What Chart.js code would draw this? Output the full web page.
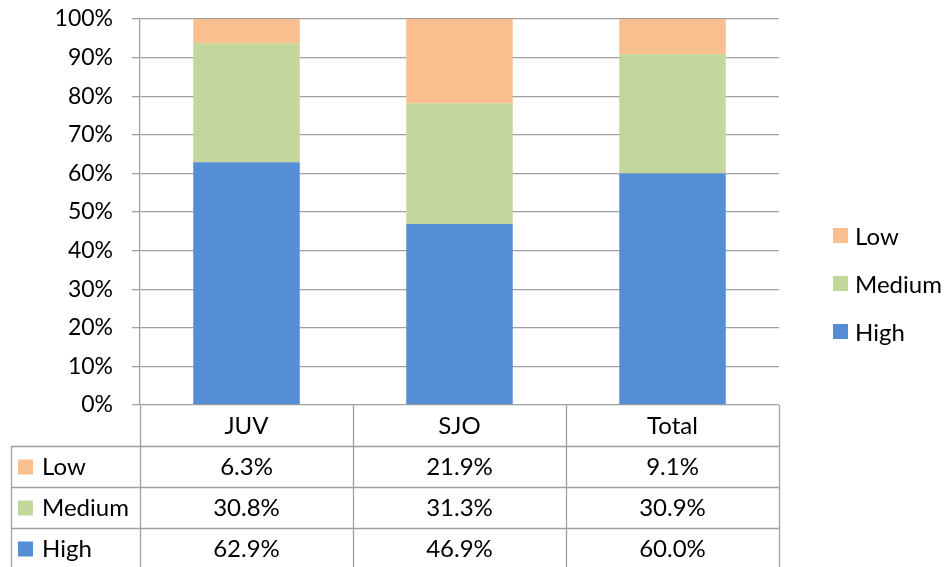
<!DOCTYPE html>
<html>
<head>
<meta charset="utf-8">
<script src="https://cdn.jsdelivr.net/npm/chart.js@4/dist/chart.umd.min.js"></script>
<style>
html,body{margin:0;padding:0;background:#fff;}
#wrap{width:949px;height:567px;}
</style>
</head>
<body>
<div id="wrap"><canvas id="chart" width="949" height="567"></canvas></div>
<script>
// data
const categories = ['JUV', 'SJO', 'Total'];
const seriesNames = ['High', 'Medium', 'Low'];
const highVals = [62.9, 46.9, 60.0];
const mediumVals = [30.8, 31.3, 30.9];
const lowVals = [6.3, 21.9, 9.1];
const yTicks = [0, 10, 20, 30, 40, 50, 60, 70, 80, 90, 100];

const colors = {High:'#558ED5', Medium:'#C3D69B', Low:'#F9BF8F'};
const FONT = 'Lato, "Liberation Sans", sans-serif';
const GRID = '#A0A0A0';

// legend on the right + data table below, drawn from the scales
const extrasPlugin = {
  id:'extras',
  afterDraw(chart){
    const ctx = chart.ctx;
    const area = chart.chartArea;
    const x = chart.scales.x;
    const ds = chart.data.datasets;
    ctx.save();

    // legend (reverse order: Low on top)
    const legendOrder = ds.slice().reverse();
    ctx.font = '24px ' + FONT;
    ctx.textBaseline = 'middle';
    ctx.textAlign = 'left';
    legendOrder.forEach((d, i)=>{
      const cy = 236 + i*48;
      ctx.fillStyle = d.backgroundColor;
      ctx.fillRect(833, cy-8, 15, 15);
      ctx.fillStyle = '#000';
      ctx.fillText(d.label, 855, cy+1);
    });

    // data table
    const rowH = 41;
    const top = area.bottom;
    const colEdges = [area.left];
    categories.forEach((c, i)=>{
      const half = (x.getPixelForValue(1) - x.getPixelForValue(0))/2;
      colEdges.push(x.getPixelForValue(i) + half);
    });
    ctx.strokeStyle = GRID;
    ctx.lineWidth = 1.3;
    // vertical lines
    colEdges.forEach(ex=>{
      ctx.beginPath();
      ctx.moveTo(Math.round(ex)+0.5, top);
      ctx.lineTo(Math.round(ex)+0.5, chart.height);
      ctx.stroke();
    });
    ctx.beginPath();
    ctx.moveTo(11.5, top+rowH);
    ctx.lineTo(11.5, chart.height);
    ctx.stroke();
    // horizontal lines
    for(let r=1;r<=3;r++){
      const y = Math.round(top + r*rowH)+0.5;
      ctx.beginPath();
      ctx.moveTo(11, y);
      ctx.lineTo(colEdges[colEdges.length-1], y);
      ctx.stroke();
    }
    // header
    ctx.fillStyle = '#000';
    ctx.font = '24px ' + FONT;
    ctx.textAlign = 'center';
    categories.forEach((c, i)=>{
      ctx.fillText(c, x.getPixelForValue(i), top + rowH/2 + 1);
    });
    // rows
    legendOrder.forEach((d, r)=>{
      const cy = top + (r+1)*rowH + rowH/2 + 1;
      ctx.fillStyle = d.backgroundColor;
      ctx.fillRect(18, cy-8, 15, 15);
      ctx.fillStyle = '#000';
      ctx.textAlign = 'left';
      ctx.fillText(d.label, 42, cy);
      ctx.textAlign = 'center';
      d.data.forEach((v, i)=>{
        ctx.fillText(v.toFixed(1) + '%', x.getPixelForValue(i), cy);
      });
    });
    ctx.restore();
  }
};

new Chart(document.getElementById('chart').getContext('2d'), {
  type:'bar',
  data:{
    labels:categories,
    datasets:[
      {label:'High', data:highVals, backgroundColor:colors.High},
      {label:'Medium', data:mediumVals, backgroundColor:colors.Medium},
      {label:'Low', data:lowVals, backgroundColor:colors.Low}
    ]
  },
  options:{
    responsive:false,
    animation:false,
    devicePixelRatio:1,
    barPercentage:0.5,
    categoryPercentage:1,
    layout:{padding:{top:19, right:170, bottom:162, left:0}},
    plugins:{legend:{display:false}, tooltip:{enabled:false}},
    scales:{
      x:{display:false, stacked:true},
      y:{
        stacked:true,
        min:0, max:100,
        afterFit(scale){
          scale.width = 140;
          scale.paddingTop = 0;
          scale.paddingBottom = 0;
        },
        afterBuildTicks(scale){ scale.ticks = yTicks.map(v=>({value:v})); },
        ticks:{
          padding:19,
          color:'#000',
          font:{family:FONT, size:23},
          callback:v=>v + '%'
        },
        grid:{color:GRID, lineWidth:1.3, tickLength:8, drawTicks:true},
        border:{display:true, color:GRID, width:1.3}
      }
    }
  },
  plugins:[extrasPlugin]
});
</script>
</body>
</html>
